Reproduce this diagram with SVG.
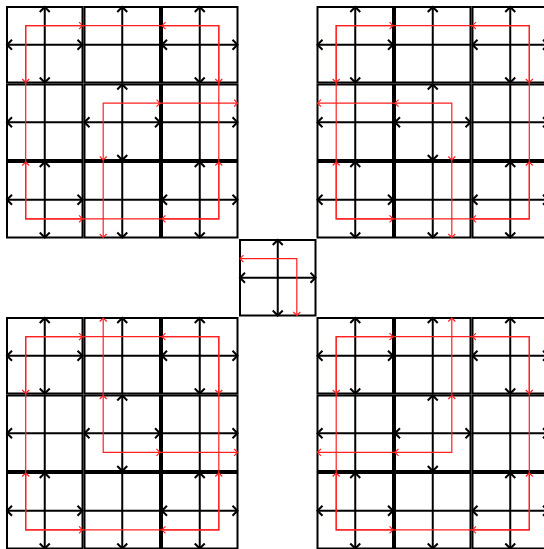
<svg xmlns="http://www.w3.org/2000/svg" width="544" height="549" viewBox="0 0 544 549">
<style>
.cell{fill:none;stroke:#000;stroke-width:2}
.bk{fill:none;stroke:#000;stroke-width:2}
.rd{fill:none;stroke:#ff2020;stroke-width:1.2}
.bb{marker-start:url(#ah);marker-end:url(#ah)}
.be{marker-end:url(#ah)}
.rb{marker-start:url(#rh);marker-end:url(#rh)}
.re{marker-end:url(#rh)}
</style>
<defs>
<marker id="ah" viewBox="-7 -7 14 14" markerWidth="14" markerHeight="14" refX="0" refY="0" orient="auto-start-reverse" markerUnits="userSpaceOnUse" overflow="visible">
<path d="M-5,-5 L0,0 L-5,5" fill="none" stroke="#000" stroke-width="2"/>
</marker>
<marker id="rh" viewBox="-5 -5 10 10" markerWidth="10" markerHeight="10" refX="0" refY="0" orient="auto-start-reverse" markerUnits="userSpaceOnUse" overflow="visible">
<path d="M-3.5,-3.5 L0,0 L-3.5,3.5" fill="none" stroke="#ff2020" stroke-width="1.2"/>
</marker>
<g id="c-full">
<rect class="cell" x="1" y="1" width="75.5" height="75.5"/>
<path class="bk bb" d="M38.75,1 V76.5"/>
<path class="bk bb" d="M1,38.75 H76.5"/>
</g>
<g id="c-top">
<rect class="cell" x="1" y="1" width="75.5" height="75.5"/>
<path class="bk be" d="M38.75,76.5 V1"/>
<path class="bk" d="M1,38.75 H76.5"/>
</g>
<g id="c-left">
<rect class="cell" x="1" y="1" width="75.5" height="75.5"/>
<path class="bk be" d="M76.5,38.75 H1"/>
<path class="bk" d="M38.75,1 V76.5"/>
</g>
<g id="c-right">
<rect class="cell" x="1" y="1" width="75.5" height="75.5"/>
<path class="bk be" d="M1,38.75 H76.5"/>
<path class="bk" d="M38.75,1 V76.5"/>
</g>
<g id="c-bottom">
<rect class="cell" x="1" y="1" width="75.5" height="75.5"/>
<path class="bk be" d="M38.75,1 V76.5"/>
<path class="bk" d="M1,38.75 H76.5"/>
</g>
<g id="grid">
<use href="#c-full"/>
<use href="#c-top" x="77.5"/>
<use href="#c-full" x="155"/>
<use href="#c-left" y="77.5"/>
<use href="#c-full" x="77.5" y="77.5"/>
<use href="#c-right" x="155" y="77.5"/>
<use href="#c-full" y="155"/>
<use href="#c-bottom" x="77.5" y="155"/>
<use href="#c-full" x="155" y="155"/>
<path class="rd" d="M19.7,19.7 H212.8 V212.8 H19.7 Z"/>
<path class="rd rb" d="M76.5,19.7 H19.7 V76.5"/>
<path class="rd rb" d="M156,19.7 H212.8 V76.5"/>
<path class="rd rb" d="M19.7,156 V212.8 H76.5"/>
<path class="rd rb" d="M156,212.8 H212.8 V156"/>
</g>
<g id="inner">
<path class="rd rb" d="M154,97.2 H97.2 V154"/>
<path class="rd re" d="M154,97.2 H231.5"/>
<path class="rd re" d="M97.2,154 V231.5"/>
</g>
</defs>
<rect width="544" height="549" fill="#fff"/>
<g id="grid-top-left" transform="translate(6,6)">
<use href="#grid"/>
<use href="#inner"/>
</g>
<g id="grid-top-right" transform="translate(316.5,6)">
<use href="#grid"/>
<use href="#inner" transform="translate(232.5,0) scale(-1,1)"/>
</g>
<g id="grid-bottom-left" transform="translate(6,317)">
<use href="#grid"/>
<use href="#inner" transform="translate(0,232.5) scale(1,-1)"/>
</g>
<g id="grid-bottom-right" transform="translate(316.5,317)">
<use href="#grid"/>
<use href="#inner" transform="translate(232.5,232.5) scale(-1,-1)"/>
</g>
<g id="center-cell" transform="translate(239,239)">
<use href="#c-full"/>
<path class="rd rb" d="M1,19.7 H57.8 V76.5"/>
</g>
</svg>
